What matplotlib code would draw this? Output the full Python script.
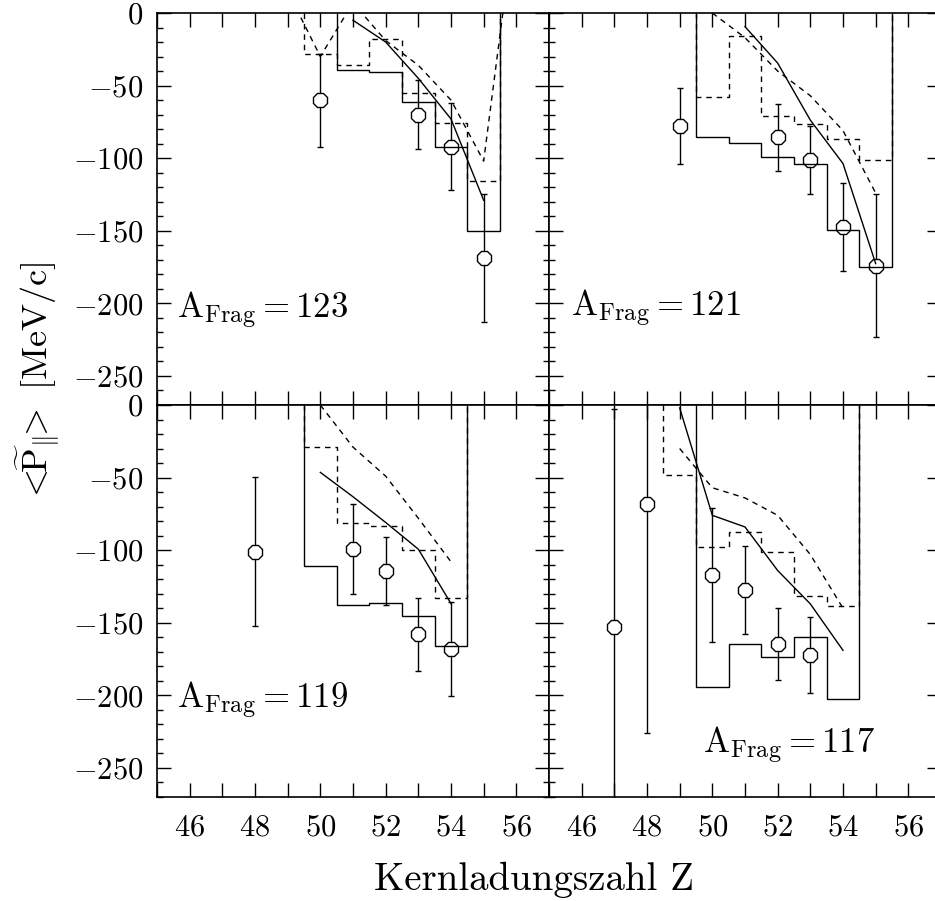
import numpy as np
import matplotlib
matplotlib.use('Agg')
import matplotlib.pyplot as plt
from matplotlib.ticker import MultipleLocator

plt.rcParams['font.family'] = 'cmr10'
plt.rcParams['mathtext.fontset'] = 'cm'
plt.rcParams['axes.formatter.use_mathtext'] = True

# A_Frag = 123 (oben links)
z_123 = [50, 53, 54, 55]
p_123 = [-60, -70, -92, -169]
e_123 = [32, 24, 30, 44]
hz_123 = [51, 52, 53, 54, 55]
hs_123 = [-39, -40.5, -61, -92, -150]
dz_123 = [50, 51, 52, 53, 54, 55]
hd_123 = [-28, -35.5, -18, -55, -75.5, -116]
csz_123 = [51, 52, 53, 54, 55]
cs_123 = [-5, -20, -45, -73, -129]
cdz_123 = [49, 50, 51, 52, 53, 54, 55, 56]
cd_123 = [15, -30, 7, -19, -36, -60, -102, 72]

# A_Frag = 121 (oben rechts)
z_121 = [49, 52, 53, 54, 55]
p_121 = [-78, -85.5, -101, -147.5, -174]
e_121 = [26, 23, 23.5, 30.5, 49.5]
hz_121 = [50, 51, 52, 53, 54, 55]
hs_121 = [-85.3, -89.2, -99.1, -104.1, -149.2, -175]
dz_121 = [50, 51, 52, 53, 54, 55]
hd_121 = [-58.2, -15.9, -71, -76.3, -86.9, -101]
csz_121 = [51, 52, 53, 54, 55]
cs_121 = [-9.4, -34.5, -73.8, -103.7, -172.6]
cdz_121 = [50, 51, 52, 53, 54, 55]
cd_121 = [0, -17, -40, -57, -81, -124]

# A_Frag = 119 (unten links)
z_119 = [48, 51, 52, 53, 54]
p_119 = [-101, -99, -114.5, -158, -168]
e_119 = [51.5, 31, 23.3, 25.2, 32.2]
hz_119 = [50, 51, 52, 53, 54]
hs_119 = [-110.8, -137.5, -136.3, -145.3, -166.2]
dz_119 = [50, 51, 52, 53, 54]
hd_119 = [-29.2, -81.6, -83.2, -100.2, -132.6]
csz_119 = [50, 51, 52, 53, 54]
cs_119 = [-46.4, -63.2, -80.9, -99.3, -136.8]
cdz_119 = [50, 51, 52, 53, 54]
cd_119 = [0, -29, -49, -78, -108]

# A_Frag = 117 (unten rechts)
z_117 = [47, 48, 50, 51, 52, 53]
p_117 = [-153, -68, -117, -127.4, -164.5, -172]
e_117 = [150, 158, 46, 30.2, 24.7, 26.1]
hz_117 = [50, 51, 52, 53, 54]
hs_117 = [-194.3, -164.4, -173.6, -159.8, -202.3]
dz_117 = [49, 50, 51, 52, 53, 54]
hd_117 = [-48.3, -97.9, -87.6, -101.4, -131.5, -138.4]
csz_117 = [49, 50, 51, 52, 53, 54]
cs_117 = [-2, -76, -84, -114, -137, -169]
cdz_117 = [49, 50, 51, 52, 53, 54]
cd_117 = [-30, -57, -64, -76, -103, -140]

panels = [
    (123, z_123, p_123, e_123, hz_123, hs_123, dz_123, hd_123, csz_123, cs_123, cdz_123, cd_123, (45.6, -210)),
    (121, z_121, p_121, e_121, hz_121, hs_121, dz_121, hd_121, csz_121, cs_121, cdz_121, cd_121, (45.67, -209)),
    (119, z_119, p_119, e_119, hz_119, hs_119, dz_119, hd_119, csz_119, cs_119, cdz_119, cd_119, (45.61, -209)),
    (117, z_117, p_117, e_117, hz_117, hs_117, dz_117, hd_117, csz_117, cs_117, cdz_117, cd_117, (49.71, -240)),
]

W, H = 935, 901
fig = plt.figure(figsize=(W / 100, H / 100), dpi=100)

# Achsenpositionen in Pixel: links 157, Breite 392, oben 13, Hoehe 392
x0, y0, pw, ph = 157, 13, 392, 392
dash = (0, (4, 3.5))

for i, (A, z, p, e, hz, hs, dz, hd, csz, cs, cdz, cd, tpos) in enumerate(panels):
    col, row = i % 2, i // 2
    left = (x0 + col * pw) / W
    bottom = 1 - (y0 + (row + 1) * ph) / H
    ax = fig.add_axes([left, bottom, pw / W, ph / H])

    edges_s = np.append(np.array(hz) - 0.5, hz[-1] + 0.5)
    edges_d = np.append(np.array(dz) - 0.5, dz[-1] + 0.5)
    ax.stairs(hs, edges_s, baseline=0, color='k', lw=1.0, zorder=3)
    ax.stairs(hd, edges_d, baseline=0, color='k', lw=1.0, ls=dash, zorder=3)
    ax.plot(csz, cs, color='k', lw=1.0, zorder=3)
    ax.plot(cdz, cd, color='k', lw=1.0, ls=dash, zorder=3)
    ax.errorbar(z, p, yerr=e, fmt='8', ms=11, mfc='white', mec='k', mew=1.0,
                ecolor='k', elinewidth=1.0, capsize=2.5, capthick=1.0, zorder=2)

    ax.text(tpos[0], tpos[1], r'A$_{\mathrm{Frag}}$$=$' + str(A), fontsize=25,
            ha='left', va='baseline')

    ax.set_xlim(45, 57)
    ax.set_ylim(-270, 0)
    ax.xaxis.set_major_locator(MultipleLocator(2))
    ax.xaxis.set_minor_locator(MultipleLocator(1))
    ax.yaxis.set_major_locator(MultipleLocator(50))
    ax.yaxis.set_minor_locator(MultipleLocator(10))
    ax.tick_params(which='both', direction='in', top=True, right=True, width=1.0)
    ax.tick_params(axis='x', which='both', length=10, pad=12, labelsize=22)
    ax.tick_params(axis='y', which='major', length=10, pad=10, labelsize=22)
    ax.tick_params(axis='y', which='minor', length=4)
    for s in ax.spines.values():
        s.set_linewidth(1.2)
    if col == 1:
        ax.tick_params(axis='y', labelleft=False)
    if row == 0:
        ax.tick_params(axis='x', labelbottom=False)

fig.text(38 / W, 1 - 382 / H, r'$<\!\!\widetilde{\mathrm{P}}_{\|}\!\!>$ [MeV/c]', rotation=90,
         fontsize=26, ha='center', va='center')
fig.text(534 / W, 1 - 890 / H, 'Kernladungszahl Z', fontsize=28,
         ha='center', va='baseline')

fig.savefig('out.png', dpi=100)
